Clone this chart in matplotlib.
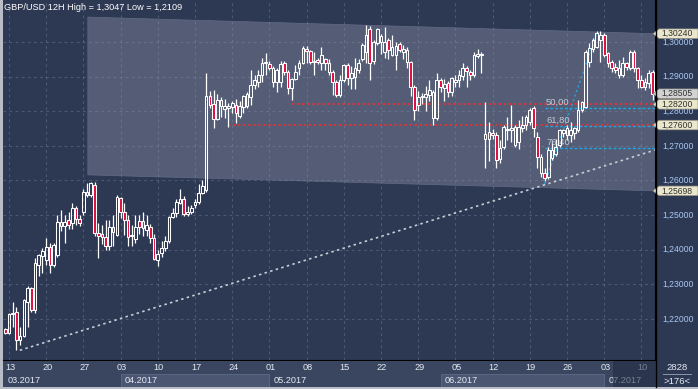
import numpy as np
import matplotlib.pyplot as plt
from matplotlib.patches import Polygon, Rectangle

plt.rcParams['font.family'] = ['Liberation Sans', 'DejaVu Sans']

# 12H candles, first one is Fri 10.03 12:00 (position -1)
opens = [1.2171, 1.2159, 1.2214, 1.2220, 1.2139, 1.2150, 1.2250, 1.2289, 1.2225, 1.2356,
         1.2382, 1.2370, 1.2408, 1.2356, 1.2384, 1.2480, 1.2468, 1.2486, 1.2477, 1.2520,
         1.2488, 1.2509, 1.2567, 1.2558, 1.2587, 1.2448, 1.2445, 1.2436, 1.2410, 1.2465,
         1.2442, 1.2549, 1.2509, 1.2486, 1.2439, 1.2430, 1.2483, 1.2483, 1.2457, 1.2465,
         1.2433, 1.2370, 1.2390, 1.2405, 1.2425, 1.2494, 1.2506, 1.2535, 1.2546, 1.2503,
         1.2509, 1.2529, 1.2537, 1.2563, 1.2572, 1.2844, 1.2821, 1.2777, 1.2832, 1.2806,
         1.2808, 1.2812, 1.2818, 1.2786, 1.2812, 1.2815, 1.2841, 1.2876, 1.2884, 1.2905,
         1.2940, 1.2937, 1.2925, 1.2884, 1.2884, 1.2940, 1.2913, 1.2867, 1.2893, 1.2925,
         1.2940, 1.2980, 1.2975, 1.2942, 1.2948, 1.2940, 1.2950, 1.2940, 1.2913, 1.2884,
         1.2847, 1.2890, 1.2934, 1.2896, 1.2900, 1.2919, 1.2950, 1.2971, 1.3038, 1.2945,
         1.2997, 1.3017, 1.2971, 1.3006, 1.2962, 1.2962, 1.2994, 1.2970, 1.2977, 1.2942,
         1.2870, 1.2818, 1.2841, 1.2840, 1.2847, 1.2855, 1.2780, 1.2890, 1.2867, 1.2881,
         1.2855, 1.2885, 1.2890, 1.2902, 1.2925, 1.2913, 1.2905, 1.2960, 1.2963, 1.2734,
         1.2720, 1.2736, 1.2731, 1.2662, 1.2697, 1.2746, 1.2746, 1.2755, 1.2711, 1.2752,
         1.2760, 1.2770, 1.2809, 1.2725, 1.2668, 1.2621, 1.2610, 1.2666, 1.2677, 1.2703,
         1.2736, 1.2731, 1.2731, 1.2737, 1.2746, 1.2803, 1.2812, 1.2942, 1.2980, 1.2986,
         1.3006, 1.3020, 1.2968, 1.2942, 1.2928, 1.2925, 1.2905, 1.2940, 1.2925, 1.2971,
         1.2925, 1.2890, 1.2870, 1.2881, 1.2913]
highs = [1.2174, 1.2217, 1.2249, 1.2234, 1.2176, 1.2258, 1.2295, 1.2292, 1.2375, 1.2387,
         1.2405, 1.2434, 1.2420, 1.2420, 1.2500, 1.2514, 1.2500, 1.2510, 1.2535, 1.2526,
         1.2500, 1.2575, 1.2593, 1.2596, 1.2596, 1.2477, 1.2471, 1.2486, 1.2486, 1.2500,
         1.2558, 1.2552, 1.2535, 1.2500, 1.2471, 1.2500, 1.2500, 1.2510, 1.2500, 1.2474,
         1.2445, 1.2400, 1.2425, 1.2440, 1.2497, 1.2520, 1.2547, 1.2575, 1.2555, 1.2526,
         1.2530, 1.2547, 1.2590, 1.2600, 1.2910, 1.2858, 1.2861, 1.2850, 1.2841, 1.2835,
         1.2825, 1.2830, 1.2835, 1.2830, 1.2847, 1.2855, 1.2919, 1.2905, 1.2919, 1.2954,
         1.2968, 1.2945, 1.2930, 1.2925, 1.2945, 1.2945, 1.2920, 1.2896, 1.2934, 1.2948,
         1.2988, 1.2988, 1.2977, 1.2970, 1.2955, 1.2985, 1.2955, 1.2950, 1.2920, 1.2890,
         1.2905, 1.2937, 1.2940, 1.2930, 1.2954, 1.2950, 1.2996, 1.3049, 1.3047, 1.3006,
         1.3040, 1.3023, 1.3043, 1.3012, 1.3020, 1.3000, 1.3000, 1.2990, 1.2985, 1.2945,
         1.2876, 1.2858, 1.2853, 1.2873, 1.2890, 1.2861, 1.2910, 1.2895, 1.2893, 1.2887,
         1.2900, 1.2905, 1.2920, 1.2940, 1.2930, 1.2920, 1.2970, 1.2980, 1.2970, 1.2826,
         1.2770, 1.2750, 1.2740, 1.2716, 1.2760, 1.2783, 1.2818, 1.2760, 1.2775, 1.2785,
         1.2790, 1.2810, 1.2815, 1.2740, 1.2675, 1.2636, 1.2697, 1.2715, 1.2720, 1.2748,
         1.2748, 1.2760, 1.2769, 1.2755, 1.2833, 1.2830, 1.2977, 1.2997, 1.3012, 1.3032,
         1.3032, 1.3026, 1.2971, 1.2948, 1.2940, 1.2948, 1.2957, 1.2942, 1.2977, 1.2977,
         1.2928, 1.2905, 1.2896, 1.2919, 1.2919]
lows = [1.2155, 1.2156, 1.2176, 1.2109, 1.2124, 1.2147, 1.2176, 1.2220, 1.2218, 1.2324,
        1.2333, 1.2356, 1.2333, 1.2350, 1.2380, 1.2454, 1.2420, 1.2460, 1.2460, 1.2471,
        1.2468, 1.2500, 1.2552, 1.2552, 1.2439, 1.2376, 1.2416, 1.2399, 1.2399, 1.2410,
        1.2440, 1.2490, 1.2442, 1.2410, 1.2410, 1.2419, 1.2445, 1.2440, 1.2440, 1.2419,
        1.2370, 1.2353, 1.2378, 1.2396, 1.2420, 1.2491, 1.2494, 1.2532, 1.2497, 1.2497,
        1.2503, 1.2520, 1.2532, 1.2560, 1.2566, 1.2810, 1.2751, 1.2774, 1.2783, 1.2780,
        1.2754, 1.2795, 1.2766, 1.2780, 1.2795, 1.2810, 1.2818, 1.2865, 1.2870, 1.2884,
        1.2905, 1.2920, 1.2870, 1.2855, 1.2870, 1.2905, 1.2850, 1.2832, 1.2890, 1.2905,
        1.2937, 1.2940, 1.2937, 1.2905, 1.2937, 1.2920, 1.2920, 1.2905, 1.2847, 1.2840,
        1.2840, 1.2885, 1.2876, 1.2863, 1.2865, 1.2910, 1.2945, 1.2940, 1.2890, 1.2937,
        1.2990, 1.2965, 1.2954, 1.2950, 1.2960, 1.2920, 1.2970, 1.2950, 1.2925, 1.2845,
        1.2775, 1.2800, 1.2820, 1.2800, 1.2830, 1.2760, 1.2775, 1.2855, 1.2830, 1.2840,
        1.2845, 1.2870, 1.2870, 1.2890, 1.2870, 1.2890, 1.2900, 1.2955, 1.2910, 1.2635,
        1.2655, 1.2720, 1.2636, 1.2650, 1.2690, 1.2717, 1.2710, 1.2697, 1.2690, 1.2740,
        1.2745, 1.2760, 1.2726, 1.2636, 1.2610, 1.2598, 1.2604, 1.2660, 1.2670, 1.2698,
        1.2725, 1.2717, 1.2711, 1.2720, 1.2740, 1.2797, 1.2809, 1.2928, 1.2971, 1.2983,
        1.2942, 1.2957, 1.2928, 1.2913, 1.2910, 1.2896, 1.2899, 1.2919, 1.2919, 1.2913,
        1.2867, 1.2867, 1.2861, 1.2867, 1.2832]
closes = [1.2159, 1.2214, 1.2217, 1.2139, 1.2150, 1.2254, 1.2289, 1.2225, 1.2361, 1.2384,
          1.2396, 1.2408, 1.2356, 1.2414, 1.2480, 1.2468, 1.2480, 1.2471, 1.2520, 1.2488,
          1.2477, 1.2567, 1.2558, 1.2593, 1.2448, 1.2440, 1.2436, 1.2410, 1.2465, 1.2451,
          1.2552, 1.2509, 1.2486, 1.2436, 1.2442, 1.2465, 1.2465, 1.2462, 1.2470, 1.2433,
          1.2373, 1.2388, 1.2405, 1.2425, 1.2494, 1.2506, 1.2538, 1.2546, 1.2503, 1.2509,
          1.2520, 1.2537, 1.2563, 1.2584, 1.2844, 1.2818, 1.2777, 1.2832, 1.2815, 1.2815,
          1.2815, 1.2824, 1.2795, 1.2815, 1.2844, 1.2850, 1.2876, 1.2890, 1.2905, 1.2940,
          1.2943, 1.2925, 1.2884, 1.2919, 1.2937, 1.2913, 1.2867, 1.2893, 1.2913, 1.2940,
          1.2983, 1.2975, 1.2942, 1.2945, 1.2943, 1.2963, 1.2940, 1.2913, 1.2884, 1.2847,
          1.2890, 1.2934, 1.2896, 1.2910, 1.2925, 1.2940, 1.2990, 1.3020, 1.2940, 1.3000,
          1.3038, 1.3000, 1.3000, 1.2977, 1.2985, 1.2988, 1.2977, 1.2980, 1.2942, 1.2870,
          1.2803, 1.2841, 1.2845, 1.2850, 1.2861, 1.2780, 1.2890, 1.2870, 1.2878, 1.2855,
          1.2896, 1.2890, 1.2905, 1.2925, 1.2915, 1.2905, 1.2962, 1.2965, 1.2966, 1.2720,
          1.2740, 1.2731, 1.2659, 1.2694, 1.2754, 1.2750, 1.2752, 1.2702, 1.2755, 1.2760,
          1.2783, 1.2803, 1.2751, 1.2668, 1.2621, 1.2607, 1.2688, 1.2688, 1.2697, 1.2746,
          1.2745, 1.2751, 1.2746, 1.2751, 1.2803, 1.2826, 1.2971, 1.2983, 1.3006, 1.3026,
          1.3020, 1.2962, 1.2940, 1.2925, 1.2919, 1.2905, 1.2940, 1.2928, 1.2971, 1.2925,
          1.2890, 1.2870, 1.2884, 1.2910, 1.2851]

week_labels = ['13', '20', '27', '03', '10', '17', '24', '01', '08', '15',
               '22', '29', '05', '12', '19', '26', '03', '10']
week_pos = [0, 10, 20, 30, 40, 50, 60, 70, 80, 90, 100, 110, 120, 130, 140, 150, 160, 170]
month_labels = ['03.2017', '04.2017', '05.2017', '06.2017', '07.2017']
month_start = [-1.6, 30, 70, 116, 160]
price_levels = [1.22, 1.23, 1.24, 1.25, 1.26, 1.27, 1.28, 1.29, 1.30]

# channel (left edge position, top/bottom at left and at right edge)
chan_x = [21.2, 173.7]
chan_top = [1.3072, 1.30240]
chan_bot = [1.2616, 1.25698]
# trend line from the low
trend_x = [2.9, 173.7]
trend_y = [1.2109, 1.2688]
# fibonacci swing
fib_x = [144, 158]
fib_y = [1.2590, 1.3026]
fib_levels = [50.0, 61.8, 76.4]
# support lines (level, start position)
red_levels = [1.2820, 1.2760]
red_start = [76, 59]
tag_values = [1.30240, 1.28505, 1.28200, 1.27600, 1.25698]

BG = '#2d3853'
CHAN = '#545d75'
W, H = 698, 389


def box(x0, y0, x1, y1):
    return [x0 / W, 1 - y1 / H, (x1 - x0) / W, (y1 - y0) / H]


fig = plt.figure(figsize=(6.98, 3.89), dpi=100, facecolor='#b9bdc8')
fig.add_artist(Rectangle((3 / W, 2 / H), 1, 1, transform=fig.transFigure,
                         facecolor=BG, edgecolor='none', zorder=0))
ax = fig.add_axes(box(3, 0, 655, 360))
ax.set_facecolor(BG)
xmin, xmax = -1.61, 173.66
ax.set_xlim(xmin, xmax)
ax.set_ylim(1.2081, 1.31214)
ax.set_xticks([])
ax.set_yticks([])
for s in ['top', 'left']:
    ax.spines[s].set_visible(False)
ax.spines['right'].set_color('black')
ax.spines['bottom'].set_color('black')

# channel
ax.add_patch(Polygon([(chan_x[0], chan_top[0]), (chan_x[1], chan_top[1]),
                      (chan_x[1], chan_bot[1]), (chan_x[0], chan_bot[0])],
                     closed=True, facecolor=CHAN, edgecolor='#616b84', lw=0.5, zorder=0.5))

# grid
for p in week_pos:
    ax.axvline(p, color='#8a94b0', alpha=0.35, lw=0.8, ls=(0, (2.5, 3)), zorder=1)
for lv in price_levels:
    ax.axhline(lv, color='#8a94b0', alpha=0.35, lw=0.8, ls=(0, (2.5, 3)), zorder=1)

# candles
xs = np.arange(len(closes)) - 1
o = np.array(opens)
c = np.array(closes)
top = np.maximum(o, c)
bot = np.minimum(o, c)
ax.vlines(xs, top, highs, color='white', lw=0.9, zorder=3)
ax.vlines(xs, lows, bot, color='white', lw=0.9, zorder=3)
face = ['#dd1040' if cc < oo else 'none' for oo, cc in zip(o, c)]
ax.bar(xs, np.maximum(top - bot, 0.00005), bottom=bot, width=0.72,
       color=face, edgecolor='white', linewidth=0.75, zorder=4)

# trend line
slope = (trend_y[1] - trend_y[0]) / (trend_x[1] - trend_x[0])
ax.plot([trend_x[0], xmax], [trend_y[0], trend_y[0] + slope * (xmax - trend_x[0])],
        color='#c8ccd6', lw=1.2, ls=(0, (1.5, 2)), zorder=2)

# red support lines
for lv, st in zip(red_levels, red_start):
    ax.plot([st, xmax], [lv, lv], color='#ff2a2a', lw=1.1, ls=(0, (1.5, 1.8)), zorder=2)

# fibonacci
ax.plot(fib_x, fib_y, color='#1ea6e6', lw=1.0, ls=(0, (1.5, 2)), zorder=2)
for lvl in fib_levels:
    v = fib_y[1] - (fib_y[1] - fib_y[0]) * lvl / 100
    ax.plot([fib_x[0], xmax], [v, v], color='#1ea6e6', lw=1.0, ls=(0, (2, 1.5)), zorder=2)
    ax.text(fib_x[0] + 0.4, v + 0.0005, f'{lvl:.2f}'.replace('.', ','), color='#c3cad8',
            fontsize=6.8, va='bottom', ha='left', zorder=3.5)

# title
ax.text(1 / 652, 1 - 8 / 360, 'GBP/USD 12H High = 1,3047 Low = 1,2109', transform=ax.transAxes,
        color='white', fontsize=6.6, va='center', ha='left')

# right price scale
yt = ax.get_yaxis_transform()
for lv in price_levels:
    ax.text(1 + 7 / 652, lv, f'{lv:.5f}'.replace('.', ','), transform=yt, color='#a9c8f2',
            fontsize=6.2, va='center', ha='left', clip_on=False, zorder=6)
px = 0.000289  # price per pixel
for tv in tag_values:
    fc = '#d3d3d3' if tv == 1.28505 else '#ebe7cc'
    verts = [(1 - 2 / 652, tv), (1 + 4 / 652, tv + 4.8 * px), (1 + 43 / 652, tv + 4.8 * px),
             (1 + 43 / 652, tv - 4.8 * px), (1 + 4 / 652, tv - 4.8 * px)]
    ax.add_patch(Polygon(verts, closed=True, transform=yt, facecolor=fc, edgecolor='#8a8a80',
                         lw=0.5, clip_on=False, zorder=7))
    ax.text(1 + 6 / 652, tv, f'{tv:.5f}'.replace('.', ','), transform=yt, color='#303030',
            fontsize=6.2, va='center', ha='left', clip_on=False, zorder=8)

# date strip
dax = fig.add_axes(box(3, 361, 655, 387))
dax.set_xlim(xmin, xmax)
dax.set_ylim(26, 0)
dax.set_facecolor('#3a4560')
dax.set_xticks([])
dax.set_yticks([])
for s in dax.spines.values():
    s.set_visible(False)
month_end = month_start[1:] + [xmax]
for i, (lab, st, en) in enumerate(zip(month_labels, month_start, month_end)):
    if i % 2 == 1:
        dax.add_patch(Rectangle((st, 13), en - st, 13, facecolor='#4b5673', edgecolor='#5f6a86',
                                lw=0.6, zorder=0.5))
    dax.text(st + 1.2, 19.5, lab, color='#e6eaf2', fontsize=6.6, va='center', ha='left')
dax.add_patch(Rectangle((162.5, 0), xmax - 162.5, 26, facecolor='#1f2840', alpha=0.55,
                        edgecolor='none', zorder=3))
for p, lab in zip(week_pos, week_labels):
    dax.text(p + 0.3, 6, lab, color='#e6eaf2', fontsize=6.6, va='center', ha='center', zorder=2)

# corner
fig.text(677 / W, 1 - 367 / H, '2828', color='#e6eaf2', fontsize=6.8, ha='center', va='center')
fig.text(677 / W, 1 - 381 / H, '>176<', color='#e6eaf2', fontsize=6.8, ha='center', va='center')
fig.add_artist(plt.Line2D([663 / W, 691 / W], [1 - 373.5 / H, 1 - 373.5 / H], color='#8a94aa',
                          lw=0.7, transform=fig.transFigure))
fig.add_artist(plt.Line2D([655.5 / W, 655.5 / W], [2 / H, 1], color='black', lw=1,
                          transform=fig.transFigure))

fig.savefig('out.png', dpi=100, facecolor=fig.get_facecolor())
